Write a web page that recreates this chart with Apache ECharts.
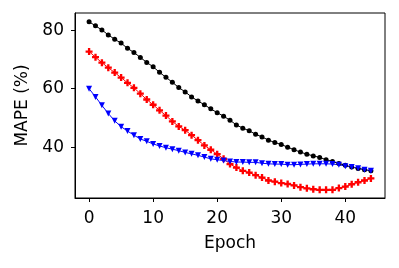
<!DOCTYPE html>
<html>
<head>
<meta charset="utf-8">
<script src="https://cdn.jsdelivr.net/npm/echarts@6/dist/echarts.min.js"></script>
<style>html,body{margin:0;padding:0;background:#fff;}#c{width:399px;height:268px;}</style>
</head>
<body>
<div id="c"></div>
<script>
const epochs = Array.from({length: 45}, (_, i) => i);
const blackSeries = [82.9,81.5,80.1,78.4,76.9,75.6,73.8,72.4,70.7,69.0,67.5,65.6,63.9,62.2,60.4,58.9,57.2,55.8,54.5,53.1,51.8,50.6,49.2,47.6,46.5,45.6,44.4,43.5,42.4,41.6,40.9,40.0,39.1,38.3,37.6,37.0,36.5,35.7,35.1,34.4,33.8,33.2,32.7,32.3,31.9];
const redSeries = [72.7,70.8,68.9,67.2,65.5,63.8,62.0,60.3,58.3,56.3,54.5,52.6,50.8,48.8,47.1,45.8,44.1,42.4,40.6,39.1,37.6,36.0,34.2,33.0,31.9,31.3,30.4,29.6,28.6,28.2,27.7,27.4,26.9,26.3,25.9,25.6,25.4,25.4,25.4,26.0,26.5,27.3,28.0,28.6,29.3];
const blueSeries = [60.0,57.2,54.3,51.5,49.0,47.0,45.5,44.1,42.8,42.0,41.1,40.4,39.8,39.3,38.8,38.2,37.7,37.2,36.6,36.0,35.7,35.4,35.1,34.9,34.9,34.8,34.8,34.5,34.3,34.2,34.2,34.0,34.0,34.1,34.2,34.3,34.3,34.3,34.2,34.0,33.5,33.2,32.8,32.3,31.9];
const xTicks = [0, 10, 20, 30, 40];
const yTicks = [40, 60, 80];

const font = 'DejaVu Sans';
const pair = arr => arr.map((v, i) => [epochs[i], v]);
const chart = echarts.init(document.getElementById('c'), null, {renderer: 'canvas'});
const mk = (data, color, symbol, size, rotate) => ({
  type: 'line', data: pair(data), symbol: symbol, symbolSize: size, symbolRotate: rotate || 0,
  showAllSymbol: true, animation: false,
  lineStyle: {color: color, width: 1}, itemStyle: {color: color, borderWidth: 0}
});
chart.setOption({
  animation: false,
  grid: {left: 75, top: 13, right: 14, bottom: 70, show: true, borderColor: '#000', borderWidth: 1, backgroundColor: 'transparent'},
  xAxis: {
    type: 'value', min: -2.2, max: 46.2,
    name: 'Epoch', nameLocation: 'middle', nameGap: 37,
    nameTextStyle: {fontFamily: font, fontSize: 17, color: '#000'},
    axisLine: {show: true, onZero: false, lineStyle: {color: '#000', width: 1}},
    axisTick: {show: true, length: 4, lineStyle: {color: '#000', width: 1}, customValues: xTicks},
    axisLabel: {fontFamily: font, fontSize: 17, color: '#000', margin: 12, customValues: xTicks},
    splitLine: {show: false}
  },
  yAxis: {
    type: 'value', min: 22.6, max: 85.9,
    name: 'MAPE (%)', nameLocation: 'middle', nameGap: 44,
    nameTextStyle: {fontFamily: font, fontSize: 17, color: '#000'},
    axisLine: {show: true, onZero: false, lineStyle: {color: '#000', width: 1}},
    axisTick: {show: true, length: 4, lineStyle: {color: '#000', width: 1}, customValues: yTicks},
    axisLabel: {fontFamily: font, fontSize: 17, color: '#000', margin: 11, customValues: yTicks},
    splitLine: {show: false}
  },
  series: [
    mk(blackSeries, '#000000', 'circle', 5),
    mk(redSeries, '#ff0000', 'path://M1,0H2V1H3V2H2V3H1V2H0V1H1Z', 7),
    mk(blueSeries, '#0000ff', 'triangle', 6, 180)
  ]
});
</script>
</body>
</html>
